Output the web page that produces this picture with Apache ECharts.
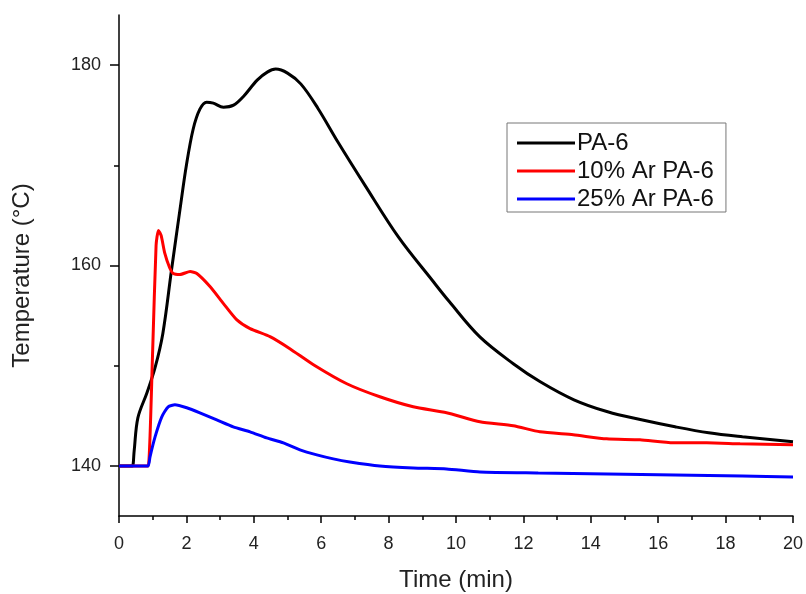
<!DOCTYPE html>
<html>
<head>
<meta charset="utf-8">
<script src="https://cdn.jsdelivr.net/npm/echarts@6/dist/echarts.min.js"></script>
<style>html,body{margin:0;padding:0;background:#fff;}#c{width:806px;height:594px;}</style>
</head>
<body>
<div id="c"></div>
<script>
// ---- Data (time in min, temperature in °C) ----
const seriesNames = ['PA-6', '10% Ar PA-6', '25% Ar PA-6'];
const xTickLabels = [0, 2, 4, 6, 8, 10, 12, 14, 16, 18, 20];
const yTickLabels = [140, 160, 180];
const yMinorTicks = [150, 170];

const pa6Time = [0, 0.35, 0.4, 0.45, 0.56, 0.83, 1.07, 1.3, 1.56, 1.81, 2.0, 2.2, 2.4, 2.6, 2.8, 3.1, 3.4, 3.7, 4.1, 4.4, 4.65, 5.0, 5.4, 5.9, 6.5, 7.3, 8.3, 9.3, 9.8, 10.7, 11.7, 12.5, 13.5, 14.5, 15.5, 16.5, 17.5, 18.5, 20];
const pa6Temp = [140, 140, 140, 141.5, 144.8, 147.3, 149.8, 153.2, 159.6, 165.6, 170.0, 173.6, 175.6, 176.3, 176.2, 175.8, 176.0, 176.9, 178.5, 179.3, 179.6, 179.2, 178.1, 175.7, 172.3, 168.0, 162.8, 158.5, 156.4, 152.9, 150.2, 148.4, 146.6, 145.4, 144.6, 143.9, 143.3, 142.9, 142.4];

const ar10Time = [0, 0.8, 0.87, 1.0, 1.1, 1.17, 1.25, 1.36, 1.5, 1.61, 1.81, 2.11, 2.31, 2.7, 3.1, 3.49, 3.89, 4.48, 5.07, 5.77, 6.76, 7.74, 8.73, 9.72, 10.71, 11.7, 12.49, 13.48, 14.47, 15.46, 16.45, 17.44, 18.43, 20];
const ar10Temp = [140, 140, 140, 151.6, 162.0, 163.5, 163.0, 161.2, 159.8, 159.2, 159.1, 159.4, 159.2, 157.9, 156.2, 154.6, 153.7, 152.9, 151.7, 150.1, 148.2, 146.9, 145.9, 145.3, 144.4, 144.0, 143.4, 143.1, 142.7, 142.6, 142.3, 142.3, 142.2, 142.1];

const ar25Time = [0, 0.8, 0.87, 0.92, 1.07, 1.27, 1.46, 1.66, 2.01, 2.4, 2.9, 3.39, 3.89, 4.38, 4.88, 5.37, 5.87, 6.36, 6.85, 7.74, 8.73, 9.72, 10.71, 12.44, 14.5, 16.5, 18.5, 20];
const ar25Temp = [140, 140, 140, 140.9, 142.9, 144.9, 145.9, 146.1, 145.8, 145.3, 144.6, 143.9, 143.4, 142.8, 142.3, 141.6, 141.1, 140.7, 140.4, 140.0, 139.8, 139.7, 139.4, 139.3, 139.2, 139.1, 139.0, 138.9];

const colors = ['#000000', '#ff0000', '#0000ff'];
const zip = (a, b) => a.map((v, i) => [v, b[i]]);

const FONT = "'Liberation Sans', Arial, sans-serif";
const chart = echarts.init(document.getElementById('c'), null, {renderer: 'canvas'});

chart.setOption({
  backgroundColor: '#ffffff',
  animation: false,
  grid: {left: 119, right: 13, top: 15, bottom: 78, containLabel: false, outerBoundsMode: 'none'},
  legend: {
    orient: 'vertical',
    left: 507,
    top: 123,
    data: seriesNames,
    icon: 'rect',
    itemWidth: 58,
    itemHeight: 3,
    itemGap: 4,
    padding: [8, 12, 1, 10],
    borderColor: '#777',
    borderWidth: 1,
    textStyle: {fontFamily: FONT, fontSize: 24, color: '#111', padding: [0, 0, 0, -3]}
  },
  xAxis: {
    type: 'value',
    min: 0, max: 20, interval: 2,
    name: 'Time (min)',
    nameLocation: 'middle',
    nameGap: 52,
    nameTextStyle: {fontFamily: FONT, fontSize: 24, color: '#222'},
    axisLine: {show: true, lineStyle: {color: '#000', width: 1.5}},
    axisTick: {show: true, length: 7, lineStyle: {color: '#000', width: 1.5}},
    minorTick: {show: true, splitNumber: 2, length: 4, lineStyle: {color: '#000', width: 1.5}},
    axisLabel: {fontFamily: FONT, fontSize: 18, color: '#222', margin: 19,
      customValues: xTickLabels},
    splitLine: {show: false}
  },
  yAxis: [{
    type: 'value',
    min: 135, max: 185,
    name: 'Temperature (°C)',
    nameLocation: 'middle',
    nameGap: 85,
    nameTextStyle: {fontFamily: FONT, fontSize: 24, color: '#222', padding: [0, 0, 0, -20]},
    axisLine: {show: true, lineStyle: {color: '#000', width: 1.5}},
    axisTick: {show: true, length: 9, customValues: yTickLabels, lineStyle: {color: '#000', width: 1.5}},
    axisLabel: {fontFamily: FONT, fontSize: 18, color: '#222', margin: 18, customValues: yTickLabels},
    splitLine: {show: false}
  }, {
    type: 'value',
    min: 135, max: 185,
    position: 'left',
    axisLine: {show: false},
    axisTick: {show: true, length: 5, customValues: yMinorTicks, lineStyle: {color: '#000', width: 1.5}},
    axisLabel: {show: false},
    splitLine: {show: false}
  }],
  series: [
    {name: seriesNames[0], type: 'line', data: zip(pa6Time, pa6Temp), showSymbol: false, smooth: 0.35,
      lineStyle: {color: colors[0], width: 3}, itemStyle: {color: colors[0]}},
    {name: seriesNames[1], type: 'line', data: zip(ar10Time, ar10Temp), showSymbol: false, smooth: 0.2,
      lineStyle: {color: colors[1], width: 3}, itemStyle: {color: colors[1]}},
    {name: seriesNames[2], type: 'line', data: zip(ar25Time, ar25Temp), showSymbol: false, smooth: 0.2,
      lineStyle: {color: colors[2], width: 3}, itemStyle: {color: colors[2]}}
  ]
});
</script>
</body>
</html>
